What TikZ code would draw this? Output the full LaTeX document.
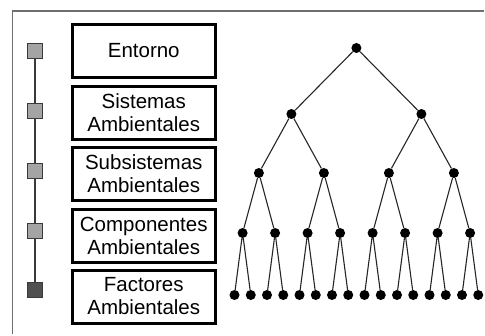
\documentclass[tikz,border=0pt]{standalone}
\usepackage{fontspec}
\setmainfont{Liberation Sans}
\definecolor{framecol}{HTML}{6E6E6E}
\definecolor{sqfill}{HTML}{A4A4A4}
\definecolor{sqdark}{HTML}{505050}
\definecolor{sqedge}{HTML}{3A3A3A}
\begin{document}
\begin{tikzpicture}[x=1pt,y=-1pt,
  lvlbox/.style={draw, line width=3pt, minimum width=143.5pt, minimum height=53pt,
    align=center, font=\fontsize{20.5}{23}\selectfont, inner sep=0pt},
  sq/.style={draw=sqedge, line width=0.9pt, fill=sqfill, minimum size=15pt, inner sep=0pt},
  dot/.style={circle, fill=black, inner sep=0pt, minimum size=10pt},
  treeedge/.style={draw=black!85, line width=1.1pt},
  axisline/.style={draw=sqedge, line width=1.3pt}]
\useasboundingbox (0,0) rectangle (485,335);
% frame
\coordinate (fbl) at (12.5,334);
\coordinate (ftl) at (12.5,11);
\coordinate (ftr) at (484,11);
\draw[framecol, line width=1.5pt] (fbl) -- (ftl) -- (ftr);
% level boxes
\node[lvlbox] (b1) at (143.75,51) {Entorno};
\node[lvlbox] (b2) at (143.75,112.5) {Sistemas\\Ambientales};
\node[lvlbox] (b3) at (143.75,174) {Subsistemas\\Ambientales};
\node[lvlbox] (b4) at (143.75,235.5) {Componentes\\Ambientales};
\node[lvlbox] (b5) at (143.75,296.5) {Factores\\Ambientales};
% squares
\node[sq] (s1) at (35,51) {};
\node[sq] (s2) at (35,111) {};
\node[sq] (s3) at (35,171) {};
\node[sq] (s4) at (35,231) {};
\node[sq, fill=sqdark] (s5) at (35,290) {};
\draw[axisline] (s1) -- (s2) (s2) -- (s3) (s3) -- (s4) (s4) -- (s5);
% tree nodes
\node[dot] (r) at (356.4,48) {};
\foreach \i in {1,2} \node[dot] (a\i) at ({291.4+130*(\i-1)},114) {};
\foreach \i in {1,...,4} \node[dot] (t\i) at ({258.9+65*(\i-1)},173) {};
\foreach \i in {1,...,8} \node[dot] (c\i) at ({242.6+32.5*(\i-1)},233) {};
\foreach \i in {1,...,16} \node[dot] (d\i) at ({234.5+16.25*(\i-1)},295) {};
% tree edges
\foreach \i in {1,2} \draw[treeedge] (r) -- (a\i);
\foreach \i in {1,2} {
  \pgfmathtruncatemacro{\ja}{2*\i-1}
  \pgfmathtruncatemacro{\jb}{2*\i}
  \draw[treeedge] (a\i) -- (t\ja) (a\i) -- (t\jb);
}
\foreach \i in {1,...,4} {
  \pgfmathtruncatemacro{\ja}{2*\i-1}
  \pgfmathtruncatemacro{\jb}{2*\i}
  \draw[treeedge] (t\i) -- (c\ja) (t\i) -- (c\jb);
}
\foreach \i in {1,...,8} {
  \pgfmathtruncatemacro{\ja}{2*\i-1}
  \pgfmathtruncatemacro{\jb}{2*\i}
  \draw[treeedge] (c\i) -- (d\ja) (c\i) -- (d\jb);
}
\end{tikzpicture}
\end{document}
